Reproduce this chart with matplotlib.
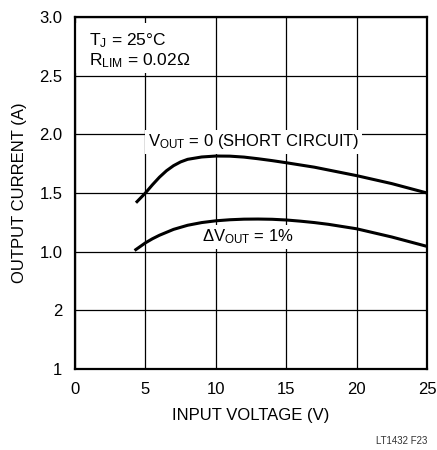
import matplotlib
matplotlib.use("Agg")
import matplotlib.pyplot as plt

plt.rcParams['font.family'] = ['Liberation Sans', 'DejaVu Sans']
plt.rcParams['mathtext.fontset'] = 'custom'
plt.rcParams['mathtext.rm'] = 'Liberation Sans'
plt.rcParams['mathtext.it'] = 'Liberation Sans'

# short circuit curve (V_OUT = 0)
vin_sc = [4.33, 5.0, 5.5, 6.0, 6.5, 7.0, 7.5, 8.0, 9.0, 10.0, 11.0, 12.0, 13.0,
          14.0, 15.0, 17.0, 20.0, 22.5, 25.0]
iout_sc = [1.417, 1.50, 1.57, 1.635, 1.69, 1.733, 1.765, 1.787, 1.807, 1.815, 1.814,
           1.806, 1.792, 1.776, 1.758, 1.72, 1.648, 1.58, 1.50]

# 1% output drop curve
vin_1p = [4.23, 5.0, 5.5, 6.0, 7.0, 8.0, 9.0, 10.0, 11.0, 12.0, 13.0, 14.0, 15.0,
          16.0, 17.0, 18.0, 20.0, 22.5, 25.0]
iout_1p = [1.01, 1.075, 1.11, 1.14, 1.19, 1.225, 1.248, 1.263, 1.272, 1.277, 1.278,
           1.276, 1.27, 1.26, 1.248, 1.233, 1.195, 1.125, 1.045]

xticks = [0, 5, 10, 15, 20, 25]
yticks = [0, 0.5, 1.0, 1.5, 2.0, 2.5, 3.0]
ylabels = ['1', '2', '1.0', '1.5', '2.0', '2.5', '3.0']

fig = plt.figure(figsize=(4.37, 4.5), dpi=100)
ax = fig.add_axes([75/437, 81/450, 352/437, 352/450])

ax.plot(vin_sc, iout_sc, color='black', lw=2.2, solid_capstyle='butt', zorder=3)
ax.plot(vin_1p, iout_1p, color='black', lw=2.2, solid_capstyle='butt', zorder=3)

ax.set_xlim(0, 25)
ax.set_ylim(0, 3)
ax.set_xticks(xticks)
ax.set_yticks(yticks)
ax.set_yticklabels(ylabels)
ax.tick_params(length=0, labelsize=12, pad=9)
ax.grid(True, color='black', lw=0.9)
ax.set_axisbelow(True)
for s in ax.spines.values():
    s.set_linewidth(1.6)
    s.set_zorder(5)

ax.set_xlabel('INPUT VOLTAGE (V)', fontsize=12, labelpad=8)
ax.set_ylabel('OUTPUT CURRENT (A)', fontsize=12, labelpad=9)

# white patch behind the conditions note
ax.add_patch(plt.Rectangle((0.05, 2.52), 8.8, 0.43, facecolor='white',
                           edgecolor='none', zorder=1))
ax.text(1.0, 2.761, r'$\mathregular{T_J}$ = 25°C', fontsize=12.5,
        va='baseline', ha='left', zorder=4)
ax.text(1.0, 2.591, r'$\mathregular{R_{LIM}}$ = 0.02Ω', fontsize=12.5,
        va='baseline', ha='left', zorder=4)

box = dict(facecolor='white', edgecolor='none', pad=2)
ax.text(5.19, 1.935, r'$\mathregular{V_{OUT}}$ = 0 (SHORT CIRCUIT)', fontsize=12,
        va='center', ha='left', zorder=4, bbox=box)
ax.text(9.0, 1.125, r'$\mathregular{\Delta V_{OUT}}$ = 1%', fontsize=12,
        va='center', ha='left', zorder=4, bbox=box)

fig.text(427/437, 4/450, 'LT1432 F23', fontsize=7, ha='right', va='bottom', color='#333333')

fig.savefig('out.png', dpi=100)
